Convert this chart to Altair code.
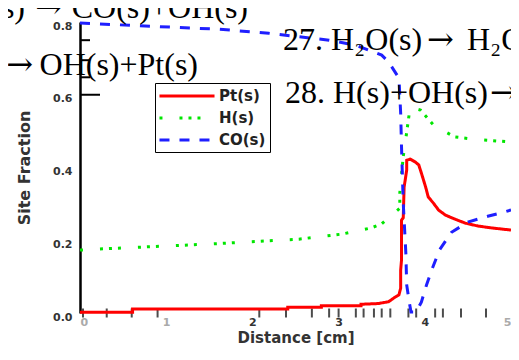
import altair as alt
import pandas as pd

series = ["Pt(s)", "H(s)", "CO(s)"]
colors = ["#ff0000", "#00e600", "#1f1fff"]
dashes = [[1, 0], [3, 17, 3, 6, 3, 6], [10, 10]]

pt_x = [0, 0.61, 0.61, 2.41, 2.41, 2.80, 2.80, 3.26, 3.26, 3.46, 3.58, 3.64, 3.70, 3.72, 3.72,
        3.73, 3.73, 3.75, 3.76, 3.79, 3.79, 3.83, 3.89, 3.93, 3.96, 4.01, 4.04, 4.10, 4.16,
        4.24, 4.35, 4.47, 4.62, 4.77, 5.0]
pt_y = [0.002, 0.002, 0.011, 0.011, 0.016, 0.016, 0.020, 0.020, 0.024, 0.026, 0.031, 0.041,
        0.050, 0.068, 0.118, 0.146, 0.255, 0.262, 0.346, 0.393, 0.420, 0.423, 0.415, 0.407,
        0.385, 0.346, 0.319, 0.302, 0.283, 0.269, 0.258, 0.247, 0.239, 0.234, 0.228]

h_x = [0, 0.23, 1.54, 2.54, 3.04, 3.38, 3.50, 3.71, 3.71, 3.73, 3.75, 3.78, 3.83, 3.95,
       4.11, 4.35, 4.56, 5.0]
h_y = [0.173, 0.176, 0.190, 0.203, 0.217, 0.234, 0.245, 0.288, 0.330, 0.382, 0.430, 0.480,
       0.566, 0.558, 0.514, 0.484, 0.478, 0.470]

co_x = [0, 1.04, 1.62, 2.19, 2.89, 3.20, 3.50, 3.58, 3.70, 3.72, 3.73, 3.75, 3.78, 3.79,
        3.82, 3.84, 3.90, 3.96, 4.02, 4.08, 4.17, 4.31, 4.50, 4.73, 4.91, 5.0]
co_y = [0.797, 0.786, 0.780, 0.769, 0.750, 0.736, 0.709, 0.690, 0.646, 0.550, 0.456, 0.302,
        0.165, 0.077, 0.030, 0.003, 0.003, 0.030, 0.077, 0.118, 0.173, 0.222, 0.250, 0.266,
        0.277, 0.283]

grid_x = [0.035, 0.31, 0.60, 0.90, 2.08, 2.39, 2.69, 2.89, 3.0, 3.20, 3.29, 3.41, 3.50,
          3.60, 3.81, 3.90, 4.12, 4.21, 4.42, 4.71]
y_minor = [0.75, 0.695, 0.648]
y_major = [0.6]

x_ticks = [0, 1, 2, 3, 4, 5]
y_ticks = [0, 0.2, 0.4, 0.6, 0.8]

rows = []
for name, xs, ys in [("Pt(s)", pt_x, pt_y), ("H(s)", h_x, h_y), ("CO(s)", co_x, co_y)]:
    for i, (a, b) in enumerate(zip(xs, ys)):
        rows.append({"series": name, "x": a, "y": b, "i": i})
df = pd.DataFrame(rows)

xsc = alt.Scale(domain=[0, 5], nice=False)
ysc = alt.Scale(domain=[0, 0.8], nice=False)

leg = alt.Legend(
    title=None, orient="none", legendX=75, legendY=61,
    symbolType="M-3.67,0H3.67", symbolSize=225, symbolStrokeWidth=3, symbolOffset=19,
    labelOffset=23,
    labelFontSize=15, labelFontWeight="bold", labelColor="#222", labelFont="DejaVu Sans",
    strokeColor="black", fillColor="white", padding=4, rowPadding=5,
)

xlabel_color = {"condition": {"test": "datum.value >= 2 && datum.value <= 4", "value": "#333"},
                "value": "#aaa"}

lines = alt.Chart(df).mark_line(strokeWidth=3, clip=False).encode(
    x=alt.X("x:Q", scale=xsc, axis=alt.Axis(
        title="Distance [cm]", values=x_ticks, format="d", domain=False, ticks=False,
        grid=False, labelColor=xlabel_color, labelFontSize=11, labelFont="DejaVu Sans",
        labelFontWeight="bold", labelPadding=3, titleFontSize=15, titleBaseline="alphabetic",
        titleY=29, titleColor="#333", titleFont="DejaVu Sans")),
    y=alt.Y("y:Q", scale=ysc, axis=alt.Axis(
        title="Site Fraction", values=y_ticks, format=".1f", domain=True,
        domainColor="black", domainWidth=2.5, ticks=False, grid=False,
        labelFontSize=11, labelFontWeight="bold", labelColor="#333", labelFont="DejaVu Sans",
        labelPadding=8, labelOffset=4, titleFontSize=16, titleColor="#333",
        titleFont="DejaVu Sans", titlePadding=20)),
    color=alt.Color("series:N", scale=alt.Scale(domain=series, range=colors), legend=leg),
    strokeDash=alt.StrokeDash("series:N", scale=alt.Scale(domain=series, range=dashes), legend=leg),
    order="i:Q",
)

gx = alt.Chart(pd.DataFrame({"g": grid_x})).mark_tick(
    orient="vertical", size=9, thickness=2, color="black").encode(
    x=alt.X("g:Q", scale=xsc), y=alt.value(291))

ymi = alt.Chart(pd.DataFrame({"v": y_minor})).mark_rule(color="black", strokeWidth=2).encode(
    y=alt.Y("v:Q", scale=ysc), x=alt.value(0), x2=alt.value(10))
yma = alt.Chart(pd.DataFrame({"v": y_major})).mark_rule(color="black", strokeWidth=2).encode(
    y=alt.Y("v:Q", scale=ysc), x=alt.value(0), x2=alt.value(20))

def note(txt, x, y, align, font="Liberation Serif"):
    return alt.Chart(pd.DataFrame({"t": [txt]})).mark_text(
        font=font, fontSize=32, color="black", align=align,
        baseline="alphabetic").encode(text="t:N", x=alt.value(x), y=alt.value(y))

ARROW = "\u2192"
notes = [
    note("(s)", -55, -4, "right"),
    note(ARROW, -18, -4, "right", "DejaVu Serif"),
    note("CO(s)+OH(s)", 168, -4, "right"),
    note(ARROW, -47, 53, "right", "DejaVu Serif"),
    note("OH(s)+Pt(s)", 118, 53, "right"),
    note("27. H\u2082O(s)", 203, 28, "left"),
    note(ARROW, 347, 28, "left", "DejaVu Serif"),
    note("H\u2082O", 387, 28, "left"),
    note("28. H(s)+OH(s)", 205, 81, "left"),
    note(ARROW, 410, 81, "left", "DejaVu Serif"),
]

chart = alt.layer(gx, ymi, yma, lines, *notes).properties(
    width=431, height=291,
    padding={"left": 72, "top": 14, "right": 0, "bottom": 33},
    autosize=alt.AutoSizeParams(type="none"),
).configure_view(stroke=None)

chart.save("out.html", embed_options={"renderer": "svg", "actions": False})
